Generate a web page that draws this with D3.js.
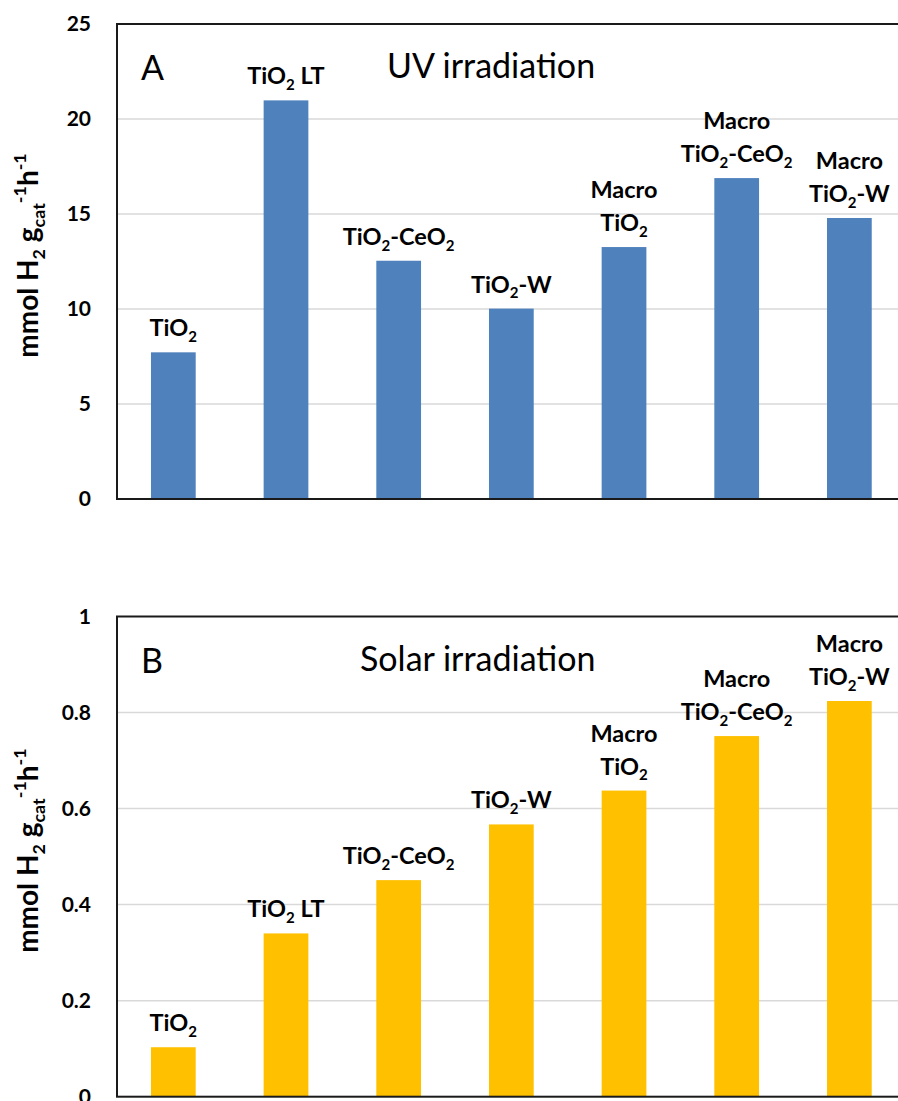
<!DOCTYPE html>
<html>
<head>
<meta charset="utf-8">
<script src="https://cdn.jsdelivr.net/npm/d3@7"></script>
<style>
  body { margin: 0; background: #fff; }
  svg { display: block; font-family: Lato, "Open Sans", sans-serif; }
</style>
</head>
<body>
<div id="chart"></div>
<script>
// data
var categories = ["TiO{_2}", "TiO{_2} LT", "TiO{_2}-CeO{_2}", "TiO{_2}-W",
                  "Macro\nTiO{_2}", "Macro\nTiO{_2}-CeO{_2}", "Macro\nTiO{_2}-W"];
var uvValues = [7.72, 20.98, 12.54, 10.02, 13.26, 16.89, 14.79];
var solarValues = [0.103, 0.340, 0.451, 0.567, 0.6375, 0.751, 0.824];
var uvTicks = [0, 5, 10, 15, 20, 25];
var solarTicks = [0, 0.2, 0.4, 0.6, 0.8, 1];
var yLabel = "mmol H{_2} g{_cat}{^-1}h{^-1}";

var W = 898, H = 1101;
var plotLeft = 117, plotRight = 905.7;

var svg = d3.select("#chart")
    .append("svg")
    .attr("width", W)
    .attr("height", H);

// writes text with {_sub} and {^sup} parts
function richText(sel, str, fs) {
  var parts = str.split(/(\{[_^][^}]*\})/).filter(function(s) { return s.length; });
  var shift = 0;
  parts.forEach(function(p) {
    var m = p.match(/^\{([_^])(.*)\}$/);
    if (m) {
      var d = m[1] === "_" ? fs * 0.25 : -fs * 0.42;
      sel.append("tspan").attr("dy", d - shift).style("font-size", (fs * 0.64) + "px").text(m[2]);
      shift = d;
    } else {
      sel.append("tspan").attr("dy", -shift).text(p);
      shift = 0;
    }
  });
}

function drawPanel(opt) {
  var g = svg.append("g");

  var x = d3.scaleBand()
    .domain(d3.range(categories.length))
    .range([plotLeft, plotRight])
    .paddingInner(0.603)
    .paddingOuter(0.3015);

  var y = d3.scaleLinear()
    .domain([0, d3.max(opt.ticks)])
    .range([opt.bottom, opt.top]);

  // gridlines
  g.selectAll(".grid")
    .data(opt.ticks.slice(1, -1))
    .enter()
    .append("line")
      .attr("x1", plotLeft)
      .attr("x2", plotRight)
      .attr("y1", function(d) { return y(d); })
      .attr("y2", function(d) { return y(d); })
      .style("stroke", "#d9d9d9")
      .style("stroke-width", 1.5);

  // bars
  g.selectAll(".bar")
    .data(opt.values)
    .enter()
    .append("rect")
      .attr("x", function(d, i) { return x(i); })
      .attr("y", function(d) { return y(d); })
      .attr("width", x.bandwidth())
      .attr("height", function(d) { return y(0) - y(d); })
      .style("fill", opt.color);

  // frame
  g.append("rect")
    .attr("x", plotLeft)
    .attr("y", opt.top)
    .attr("width", plotRight - plotLeft)
    .attr("height", opt.bottom - opt.top)
    .style("fill", "none")
    .style("stroke", "#1a1a1a")
    .style("stroke-width", 2);

  // y axis tick labels
  var ax = g.append("g")
    .attr("transform", "translate(" + plotLeft + ",0)")
    .call(d3.axisLeft(y).tickValues(opt.ticks).tickSize(0).tickPadding(26)
      .tickFormat(function(d) { return String(d); }));
  ax.select(".domain").remove();
  ax.selectAll("text")
    .style("font-family", "Lato, sans-serif")
    .style("font-size", "21px")
    .style("font-weight", "bold")
    .style("fill", "#000");

  // y axis title
  var yt = g.append("text")
    .attr("transform", "translate(38," + ((opt.top + opt.bottom) / 2 - 6) + ") rotate(-90)")
    .attr("text-anchor", "middle")
    .style("font-size", "28px")
    .style("font-weight", "bold");
  richText(yt, yLabel, 28);

  // bar labels
  categories.forEach(function(c, i) {
    var lines = c.split("\n");
    lines.forEach(function(line, j) {
      var t = g.append("text")
        .attr("x", x(i) + x.bandwidth() / 2)
        .attr("y", y(opt.values[i]) - 16 - (lines.length - 1 - j) * 33)
        .attr("text-anchor", "middle")
        .style("font-size", "23.5px")
        .style("font-weight", "bold");
      richText(t, line, 23.5);
    });
  });

  // panel letter and title
  g.append("text")
    .attr("x", 141)
    .attr("y", opt.top + 56)
    .style("font-size", "34px")
    .text(opt.letter);
  g.append("text")
    .attr("x", opt.titleX)
    .attr("y", opt.top + 54)
    .style("font-size", "34px")
    .text(opt.title);
}

drawPanel({values: uvValues, ticks: uvTicks, top: 24, bottom: 499,
  color: "#4f81bd", letter: "A", title: "UV irradiation", titleX: 387});
drawPanel({values: solarValues, ticks: solarTicks, top: 616.5, bottom: 1096.7,
  color: "#ffc000", letter: "B", title: "Solar irradiation", titleX: 360});
</script>
</body>
</html>
